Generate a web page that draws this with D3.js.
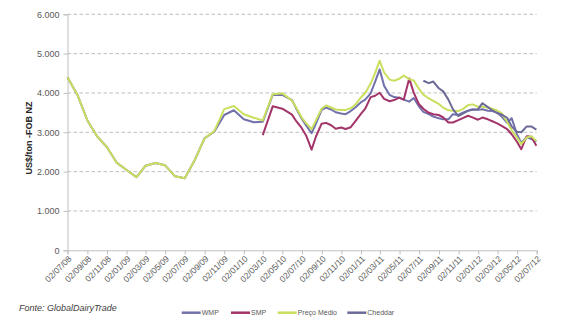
<!DOCTYPE html>
<html><head><meta charset="utf-8">
<script src="https://cdn.jsdelivr.net/npm/d3@7"></script>
<style>body{margin:0;background:#fff} svg{display:block;font-family:"Liberation Sans",Arial,sans-serif}</style>
</head><body><svg id="c" width="570" height="331"></svg>
<script>
// ---- data ----
const dates = [
"2008-07-02","2008-08-02","2008-09-02","2008-10-02","2008-11-02","2008-12-02",
"2009-01-02","2009-02-02","2009-03-02","2009-04-02","2009-05-02","2009-06-02",
"2009-07-02","2009-08-02","2009-09-02","2009-10-02","2009-11-02","2009-12-02",
"2010-01-02","2010-02-02","2010-03-02","2010-04-02","2010-05-02",
"2010-06-01","2010-06-15","2010-07-01","2010-07-15","2010-08-01","2010-08-15",
"2010-09-01","2010-09-15","2010-10-01","2010-10-15","2010-11-01","2010-11-15",
"2010-12-01","2010-12-15","2011-01-01","2011-01-15","2011-02-01","2011-02-15",
"2011-03-01","2011-03-15","2011-04-01","2011-04-15","2011-05-01","2011-05-15",
"2011-06-01","2011-06-15","2011-07-01","2011-07-15","2011-08-01","2011-08-15",
"2011-09-01","2011-09-15","2011-10-01","2011-10-15","2011-11-01","2011-11-15",
"2011-12-01","2011-12-15","2012-01-01","2012-01-15","2012-02-01","2012-02-15",
"2012-03-01","2012-03-15","2012-04-01","2012-04-15","2012-05-01","2012-05-15",
"2012-06-01","2012-06-15","2012-07-01"];

const wmp = [4400,3950,3300,2900,2620,2230,2040,1860,2150,2220,2160,1880,
1830,2290,2850,3015,3440,3560,3330,3255,3270,3950,3950,
3820,3590,3350,3175,2975,3230,3567,3630,3580,3510,3480,3460,
3540,3630,3760,3830,3990,4290,4600,4180,3950,3895,3880,3830,
3780,3870,3660,3520,3460,3400,3355,3330,3330,3460,3440,3500,
3550,3585,3570,3585,3550,3540,3500,3400,3240,3360,2960,2730,
2880,2830,2760];

const smp = [null,null,null,null,null,null,null,null,null,null,null,null,
null,null,null,null,null,null,null,null,2930,3660,3600,
3450,3275,3110,2920,2560,2900,3215,3240,3180,3090,3120,3085,
3130,3280,3460,3600,3895,3930,4005,3850,3790,3820,3880,3830,
4370,4010,3720,3600,3495,3460,3440,3380,3250,3250,3310,3360,
3420,3380,3320,3375,3330,3280,3225,3165,3080,2950,2765,2570,
2900,2890,2660];

const precoMedio = [4400,3950,3300,2900,2620,2230,2040,1860,2150,2220,2160,1880,
1830,2290,2850,3030,3590,3670,3460,3370,3300,3970,3990,
3810,3620,3380,3230,3080,3310,3600,3680,3630,3580,3570,3570,
3610,3700,3880,4000,4240,4510,4820,4520,4340,4310,4360,4440,
4350,4320,4110,3960,3860,3800,3720,3630,3560,3550,3540,3590,
3690,3710,3650,3650,3630,3600,3555,3480,3270,3050,2870,2700,
2870,2900,2780];

const cheddar = [null,null,null,null,null,null,null,null,null,null,null,null,
null,null,null,null,null,null,null,null,null,null,null,
null,null,null,null,null,null,null,null,null,null,null,null,
null,null,null,null,null,null,null,null,null,null,null,null,
null,null,null,4310,4250,4290,4120,4040,3830,3590,3414,3475,
3545,3570,3585,3740,3640,3555,3490,3450,3370,3150,3015,3000,
3150,3150,3070];

const seriesNames = ["WMP","SMP","Preço Médio","Cheddar"];
const seriesColors = ["#7172AC","#A3346A","#C9DF5E","#6C6A98"];

const tickLabels = ["02/07/08","02/09/08","02/11/08","02/01/09","02/03/09","02/05/09",
"02/07/09","02/09/09","02/11/09","02/01/10","02/03/10","02/05/10","02/07/10",
"02/09/10","02/11/10","02/01/11","02/03/11","02/05/11","02/07/11","02/09/11",
"02/11/11","02/01/12","02/03/12","02/05/12","02/07/12"];
const yTicks = [0,1000,2000,3000,4000,5000,6000];

// ---- chart ----
const svg = d3.select("#c");
const parse = d3.timeParse("%Y-%m-%d");
const parseTick = d3.timeParse("%d/%m/%y");
const tickDates = tickLabels.map(parseTick);
const x = d3.scaleTime().domain([tickDates[0], tickDates[tickDates.length-1]]).range([67.5, 536.7]);
const y = d3.scaleLinear().domain([0, 6000]).range([250.3, 14.3]);
const loc = d3.formatLocale({decimal: ",", thousands: ".", grouping: [3], currency: ["", ""]});
const fmt = loc.format(",");

// gridlines
svg.append("g").selectAll("line").data(yTicks.filter(d => d > 0)).join("line")
  .attr("x1", 67.5).attr("x2", 536.7)
  .attr("y1", d => y(d)).attr("y2", d => y(d))
  .attr("stroke", "#BEBEBE").attr("stroke-width", 1).attr("stroke-dasharray", "3.5,2.5");

// y axis
const gy = svg.append("g").attr("transform", "translate(67.5,0)")
  .call(d3.axisLeft(y).tickValues(yTicks).tickSize(4).tickPadding(4).tickFormat(fmt));
gy.select(".domain").attr("stroke", "#BFBFBF");
gy.selectAll(".tick line").attr("stroke", "#BFBFBF");
gy.selectAll("text").attr("fill", "#595959").style("font-size", "9px");

// x axis
const gx = svg.append("g").attr("transform", "translate(0,250.3)")
  .call(d3.axisBottom(x).tickValues(tickDates).tickSize(4).tickFormat((d, i) => tickLabels[i]));
gx.select(".domain").attr("stroke", "#BFBFBF");
gx.selectAll(".tick line").attr("stroke", "#BFBFBF");
gx.selectAll("text").attr("fill", "#595959").style("font-size", "8.5px")
  .attr("text-anchor", "end").attr("y", 0).attr("dy", 0)
  .attr("transform", "translate(4,9) rotate(-45)");

// lines
const allSeries = [wmp, smp, precoMedio, cheddar];
const line = d3.line().defined(d => d.v != null).x(d => x(d.t)).y(d => y(d.v));
allSeries.forEach((vals, i) => {
  const data = dates.map((s, j) => ({t: parse(s), v: vals[j]}));
  svg.append("path").datum(data).attr("d", line)
    .attr("fill", "none").attr("stroke", seriesColors[i])
    .attr("stroke-width", 2).attr("stroke-linejoin", "round");
});

// y title
svg.append("text").attr("transform", "translate(32,138) rotate(-90)")
  .attr("text-anchor", "middle").attr("fill", "#262626")
  .style("font-size", "9px").style("font-weight", "bold").text("US$/ton -FOB NZ");

// source
svg.append("text").attr("x", 19).attr("y", 311).attr("fill", "#404040")
  .style("font-size", "9px").style("font-style", "italic").text("Fonte: GlobalDairyTrade");

// legend
const legX = [181.7, 231, 277.7, 347.3];
const lg = svg.append("g");
seriesNames.forEach((n, i) => {
  lg.append("line").attr("x1", legX[i]).attr("x2", legX[i] + 19)
    .attr("y1", 312.7).attr("y2", 312.7).attr("stroke", seriesColors[i]).attr("stroke-width", 2.5);
  lg.append("text").attr("x", legX[i] + 20).attr("y", 312.7).attr("dy", "0.35em")
    .attr("fill", "#595959").style("font-size", "7px").text(n);
});
</script>
</body></html>
